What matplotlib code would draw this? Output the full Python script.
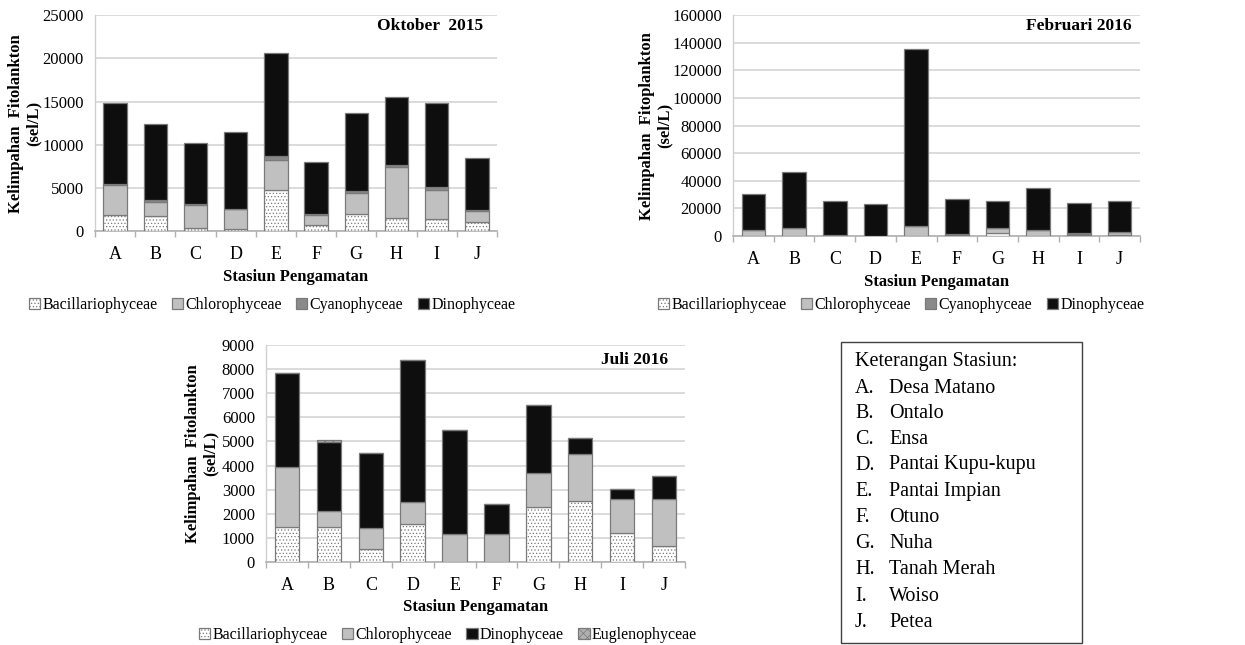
import matplotlib
matplotlib.use("Agg")
import matplotlib.pyplot as plt
from matplotlib.patches import Patch, Rectangle
import numpy as np

plt.rcParams['font.family'] = ['Liberation Serif', 'DejaVu Serif']
plt.rcParams['hatch.linewidth'] = 0.5

stations = ['A', 'B', 'C', 'D', 'E', 'F', 'G', 'H', 'I', 'J']

# Oktober 2015 (sel/L)
okt_bac = [1850, 1750, 350, 250, 4800, 650, 1950, 1500, 1350, 1050]
okt_chl = [3450, 1650, 2700, 2300, 3450, 1200, 2400, 5900, 3400, 1250]
okt_cya = [100, 250, 100, 50, 500, 100, 300, 250, 300, 100]
okt_din = [9400, 8750, 7000, 8850, 11850, 6000, 9000, 7900, 9750, 6100]

# Februari 2016 (sel/L)
feb_bac = [300, 300, 200, 150, 300, 400, 2200, 300, 700, 500]
feb_chl = [3700, 5700, 300, 200, 6700, 1100, 3400, 3700, 1100, 2300]
feb_cya = [100, 100, 0, 0, 100, 100, 100, 100, 100, 100]
feb_din = [26100, 40100, 24600, 22650, 128500, 25000, 19700, 30500, 22300, 22500]

# Juli 2016 (sel/L)
jul_bac = [1450, 1450, 520, 1580, 0, 0, 2260, 2510, 1190, 660]
jul_chl = [2500, 640, 890, 890, 1150, 1150, 1420, 1970, 1430, 1960]
jul_din = [3910, 2880, 3100, 5920, 4310, 1240, 2820, 680, 420, 960]
jul_eug = [0, 90, 0, 0, 0, 0, 0, 0, 0, 0]

station_names = ['Desa Matano', 'Ontalo', 'Ensa', 'Pantai Kupu-kupu',
                 'Pantai Impian', 'Otuno', 'Nuha', 'Tanah Merah', 'Woiso', 'Petea']

SERIF = ['Liberation Serif', 'DejaVu Serif']
EDGE = '#7a7a7a'
STYLE = {
    'Bacillariophyceae': dict(facecolor='white', hatch='.....'),
    'Chlorophyceae': dict(facecolor='#c0c0c0'),
    'Cyanophyceae': dict(facecolor='#8a8a8a'),
    'Dinophyceae': dict(facecolor='#0e0e0e'),
    'Euglenophyceae': dict(facecolor='#b0b0b0', hatch='xxxx'),
}

W, H = 1245, 645
fig = plt.figure(figsize=(W / 100, H / 100), dpi=100)


def px_rect(x0, y_top, x1, y_bot):
    return [x0 / W, 1 - y_bot / H, (x1 - x0) / W, (y_bot - y_top) / H]


def fx(x):
    return x / W


def fy(y):
    return 1 - y / H


def draw_panel(rect, series, ymax, ystep, title, title_xy, ylabel, ylabel_x,
               xlabel_y, legend_xy):
    ax = fig.add_axes(px_rect(*rect))
    x = np.arange(len(stations))
    bottom = np.zeros(len(stations))
    for name, vals in series:
        vals = np.asarray(vals, dtype=float)
        ax.bar(x, vals, width=0.58, bottom=bottom, edgecolor=EDGE,
               linewidth=0.9, zorder=3, **STYLE[name])
        bottom += vals
    ax.set_xlim(-0.5, len(stations) - 0.5)
    ax.set_ylim(0, ymax)
    ax.set_yticks(np.arange(0, ymax + 1, ystep))
    ax.yaxis.set_major_formatter(matplotlib.ticker.FuncFormatter(lambda v, p: f"{int(v)}"))
    ax.grid(axis='y', color='#d4d4d4', linewidth=1.2, zorder=0)
    ax.set_axisbelow(True)
    for s in ['top', 'right']:
        ax.spines[s].set_visible(False)
    ax.spines['left'].set_color('#d0d0d0')
    ax.spines['left'].set_linewidth(1.0)
    ax.spines['bottom'].set_color('#b0b0b0')
    ax.spines['bottom'].set_linewidth(1.2)
    ax.set_xticks(x)
    ax.set_xticklabels(stations, fontsize=13, family=SERIF)
    for lab in ax.get_yticklabels():
        lab.set_family(SERIF)
    ax.set_xticks(np.arange(-0.5, len(stations)), minor=True)
    ax.tick_params(axis='x', which='major', length=0, pad=11)
    ax.tick_params(axis='x', which='minor', length=4, color='#b0b0b0', width=1.0)
    ax.tick_params(axis='y', length=0, labelsize=12, pad=8)
    x_mid = (rect[0] + rect[2]) / 2
    fig.text(fx(x_mid), fy(xlabel_y), 'Stasiun Pengamatan', fontsize=12,
             fontweight='bold', ha='center', va='center', family=SERIF)
    fig.text(fx(ylabel_x), fy((rect[1] + rect[3]) / 2), ylabel, fontsize=12,
             fontweight='bold', ha='center', va='center', rotation=90,
             multialignment='center', linespacing=1.15, family=SERIF)
    fig.text(fx(title_xy[0]), fy(title_xy[1]), title, fontsize=12.5,
             fontweight='bold', ha='right', va='center', family=SERIF)
    handles = [Patch(edgecolor=EDGE, linewidth=0.9, label=name, **STYLE[name])
               for name, _ in series]
    fig.legend(handles=handles, loc='center',
               bbox_to_anchor=(fx(legend_xy[0]), fy(legend_xy[1])),
               ncol=len(handles), frameon=False,
               prop={'family': SERIF, 'size': 11.5},
               handlelength=0.7, handleheight=0.7, handletextpad=0.15,
               columnspacing=0.9, borderaxespad=0, borderpad=0)
    return ax


draw_panel((95, 15.3, 497, 231),
           [('Bacillariophyceae', okt_bac), ('Chlorophyceae', okt_chl),
            ('Cyanophyceae', okt_cya), ('Dinophyceae', okt_din)],
           25000, 5000, 'Oktober  2015', (483, 26),
           'Kelimpahan  Fitolankton\n(sel/L)', 25, 276.7, (272, 305))

draw_panel((733, 15.3, 1140, 236),
           [('Bacillariophyceae', feb_bac), ('Chlorophyceae', feb_chl),
            ('Cyanophyceae', feb_cya), ('Dinophyceae', feb_din)],
           160000, 20000, 'Februari 2016', (1132, 26),
           'Kelimpahan  Fitoplankton\n(sel/L)', 656, 281.7, (901, 305))

draw_panel((266, 345.3, 685, 561.7),
           [('Bacillariophyceae', jul_bac), ('Chlorophyceae', jul_chl),
            ('Dinophyceae', jul_din), ('Euglenophyceae', jul_eug)],
           9000, 1000, 'Juli 2016', (668, 360),
           'Kelimpahan  Fitolankton\n(sel/L)', 202, 606.7, (448, 635))

# Station key box
box = Rectangle((fx(840.7), fy(643)), fx(1082) - fx(840.7), fy(341.7) - fy(643),
                transform=fig.transFigure, facecolor='white', edgecolor='#404040',
                linewidth=1.0)
fig.patches.append(box)
fig.text(fx(855), fy(361.7), 'Keterangan Stasiun:', fontsize=14.5,
         ha='left', va='center', family=SERIF)
row_y = [388.3, 413.3, 440, 465, 491.7, 518, 543, 570, 596.7, 622.7]
for code, name, yy in zip(stations, station_names, row_y):
    fig.text(fx(855), fy(yy), f'{code}.', fontsize=14.5, ha='left', va='center',
             family=SERIF)
    fig.text(fx(889), fy(yy), name, fontsize=14.5, ha='left', va='center',
             family=SERIF)

fig.savefig('out.png', dpi=100)
